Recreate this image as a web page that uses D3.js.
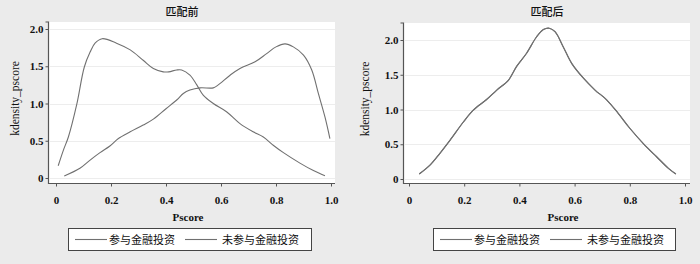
<!DOCTYPE html>
<html>
<head>
<meta charset="utf-8">
<script src="https://cdn.jsdelivr.net/npm/d3@7"></script>
<style>
	body { margin: 0; background: #ebebeb; }
	svg { display: block; }
	.tick text { font-family: "Liberation Serif", "DejaVu Serif", serif; font-weight: bold; font-size: 11px; fill: #111; }
	.cjk { font-family: "Noto Sans CJK SC", sans-serif; font-size: 11px; fill: #111; }
	.serif { font-family: "Liberation Serif", serif; fill: #111; }
</style>
</head>
<body>
<svg id="chart" width="700" height="264"></svg>
<script>
const titles = ['匹配前', '匹配后'];
const seriesNames = ['参与金融投资', '未参与金融投资'];
const xTicks = [0, 0.2, 0.4, 0.6, 0.8, 1.0];
const yTicks = [0, 0.5, 1.0, 1.5, 2.0];

// 匹配前
const beforeA = [
	[0.008, 0.165], [0.027, 0.375], [0.045, 0.55], [0.075, 0.98], [0.103, 1.49],
	[0.124, 1.69], [0.142, 1.81], [0.168, 1.87], [0.22, 1.81], [0.27, 1.72],
	[0.317, 1.58], [0.354, 1.47], [0.39, 1.425], [0.41, 1.425], [0.439, 1.45],
	[0.457, 1.45], [0.487, 1.38], [0.512, 1.25], [0.536, 1.11], [0.572, 1.0],
	[0.62, 0.89], [0.669, 0.73], [0.717, 0.62], [0.754, 0.55], [0.79, 0.44],
	[0.827, 0.34], [0.887, 0.2], [0.936, 0.1], [0.978, 0.03],
];
const beforeB = [
	[0.03, 0.027], [0.087, 0.13], [0.124, 0.24], [0.16, 0.34], [0.196, 0.43],
	[0.227, 0.53], [0.27, 0.62], [0.317, 0.71], [0.354, 0.79], [0.4, 0.93],
	[0.44, 1.05], [0.463, 1.135], [0.487, 1.18], [0.524, 1.21], [0.572, 1.21],
	[0.59, 1.25], [0.633, 1.38], [0.669, 1.47], [0.724, 1.56], [0.766, 1.67],
	[0.8, 1.76], [0.833, 1.8], [0.863, 1.76], [0.9, 1.65], [0.93, 1.45],
	[0.954, 1.135], [0.978, 0.82], [0.996, 0.53],
];
// 匹配后 (two curves lie on top of each other)
const afterA = [
	[0.037, 0.072], [0.076, 0.2], [0.112, 0.37], [0.149, 0.56], [0.197, 0.82],
	[0.233, 0.99], [0.28, 1.14], [0.318, 1.28], [0.36, 1.42], [0.39, 1.62],
	[0.426, 1.81], [0.463, 2.05], [0.487, 2.15], [0.508, 2.17], [0.529, 2.12],
	[0.559, 1.9], [0.59, 1.66], [0.632, 1.45], [0.674, 1.28], [0.716, 1.14],
	[0.758, 0.945], [0.8, 0.73], [0.849, 0.51], [0.897, 0.32], [0.94, 0.154],
	[0.967, 0.072],
];
const afterB = [
	[0.037, 0.072], [0.076, 0.2], [0.112, 0.37], [0.149, 0.56], [0.197, 0.82],
	[0.233, 0.99], [0.28, 1.14], [0.318, 1.28], [0.36, 1.42], [0.39, 1.62],
	[0.426, 1.81], [0.463, 2.05], [0.487, 2.15], [0.508, 2.17], [0.529, 2.12],
	[0.559, 1.9], [0.59, 1.66], [0.632, 1.45], [0.674, 1.28], [0.716, 1.14],
	[0.758, 0.945], [0.8, 0.73], [0.849, 0.51], [0.897, 0.32], [0.94, 0.154],
	[0.967, 0.072],
];

const panels = [
	{ title: titles[0], series: [beforeA, beforeB], left: 49, right: 335, top: 22, bottom: 183,
	  x0: 56, x1: 331, y0: 178, y2: 29, ylabX: 15, titleX: 182, xlabX: 188,
	  legend: { x: 68, w: 243 } },
	{ title: titles[1], series: [afterA, afterB], left: 404, right: 690, top: 23, bottom: 183,
	  x0: 409, x1: 685, y0: 179, y2: 40, ylabX: 365, titleX: 547, xlabX: 563,
	  legend: { x: 433, w: 242 } },
];

const svg = d3.select('#chart');
const LINE = '#707070';

panels.forEach(p => {
	const g = svg.append('g');
	const x = d3.scaleLinear().domain([0, 1]).range([p.x0, p.x1]);
	const y = d3.scaleLinear().domain([0, 2]).range([p.y0, p.y2]);

	g.append('rect')
		.attr('x', p.left).attr('y', p.top)
		.attr('width', p.right - p.left).attr('height', p.bottom - p.top)
		.attr('fill', '#fff');

	g.selectAll('line.grid')
		.data(yTicks)
		.join('line')
		.classed('grid', true)
		.attr('x1', p.left + 1).attr('x2', p.right)
		.attr('y1', d => Math.round(y(d)) + 0.5).attr('y2', d => Math.round(y(d)) + 0.5)
		.attr('stroke', '#ededed');

	const yAxis = g.append('g')
		.attr('transform', `translate(${p.left - 0.5},0)`)
		.call(d3.axisLeft(y).tickValues(yTicks).tickSize(3).tickPadding(2)
			.tickFormat(d => d === 0 ? '0' : d3.format('.1f')(d)));
	const xAxis = g.append('g')
		.attr('transform', `translate(0,${p.bottom + 0.5})`)
		.call(d3.axisBottom(x).tickValues(xTicks).tickSize(3).tickPadding(10)
			.tickFormat(d => d === 0 ? '0' : d3.format('.1f')(d)));
	[yAxis, xAxis].forEach(ax => {
		ax.select('.domain').attr('stroke', '#555').attr('stroke-width', 1.2);
		ax.selectAll('.tick line').attr('stroke', '#555');
	});
	yAxis.select('.domain').attr('d', `M-3,${p.top}H0V${p.bottom + 1}`);
	xAxis.select('.domain').attr('d', `M${p.left},0H${p.right}`);

	const line = d3.line()
		.x(d => x(d[0]))
		.y(d => y(d[1]))
		.curve(d3.curveCatmullRom);

	g.selectAll('path.series')
		.data(p.series)
		.join('path')
		.classed('series', true)
		.attr('d', line)
		.attr('fill', 'none')
		.attr('stroke', LINE)
		.attr('stroke-width', 1.1);

	g.append('text').classed('cjk', true)
		.attr('x', p.titleX).attr('y', 16)
		.attr('text-anchor', 'middle')
		.attr('font-size', 11.5)
		.attr('font-weight', 500)
		.text(p.title);

	g.append('text').classed('serif', true)
		.attr('transform', `translate(${p.ylabX + 4},${(p.top + p.bottom) / 2 - 4}) rotate(-90)`)
		.attr('text-anchor', 'middle')
		.attr('font-size', 11.5)
		.text('kdensity_pscore');

	g.append('text').classed('serif', true)
		.attr('x', p.xlabX).attr('y', 221)
		.attr('text-anchor', 'middle')
		.attr('font-size', 11)
		.attr('font-weight', 'bold')
		.text('Pscore');

	// legend
	const lg = g.append('g').attr('transform', `translate(${p.legend.x},228)`);
	lg.append('rect')
		.attr('x', 0.5).attr('y', 0.5)
		.attr('width', p.legend.w).attr('height', 22)
		.attr('fill', '#fff').attr('stroke', '#444');
	const offsets = [[7, 41], [117, 154]];
	seriesNames.forEach((name, i) => {
		lg.append('line')
			.attr('x1', offsets[i][0]).attr('x2', offsets[i][0] + 32)
			.attr('y1', 11.5).attr('y2', 11.5)
			.attr('stroke', LINE).attr('stroke-width', 1.1);
		lg.append('text').classed('cjk', true)
			.attr('x', offsets[i][1]).attr('y', 16)
			.attr('font-size', 11.5)
			.text(name);
	});
});
</script>
</body>
</html>
